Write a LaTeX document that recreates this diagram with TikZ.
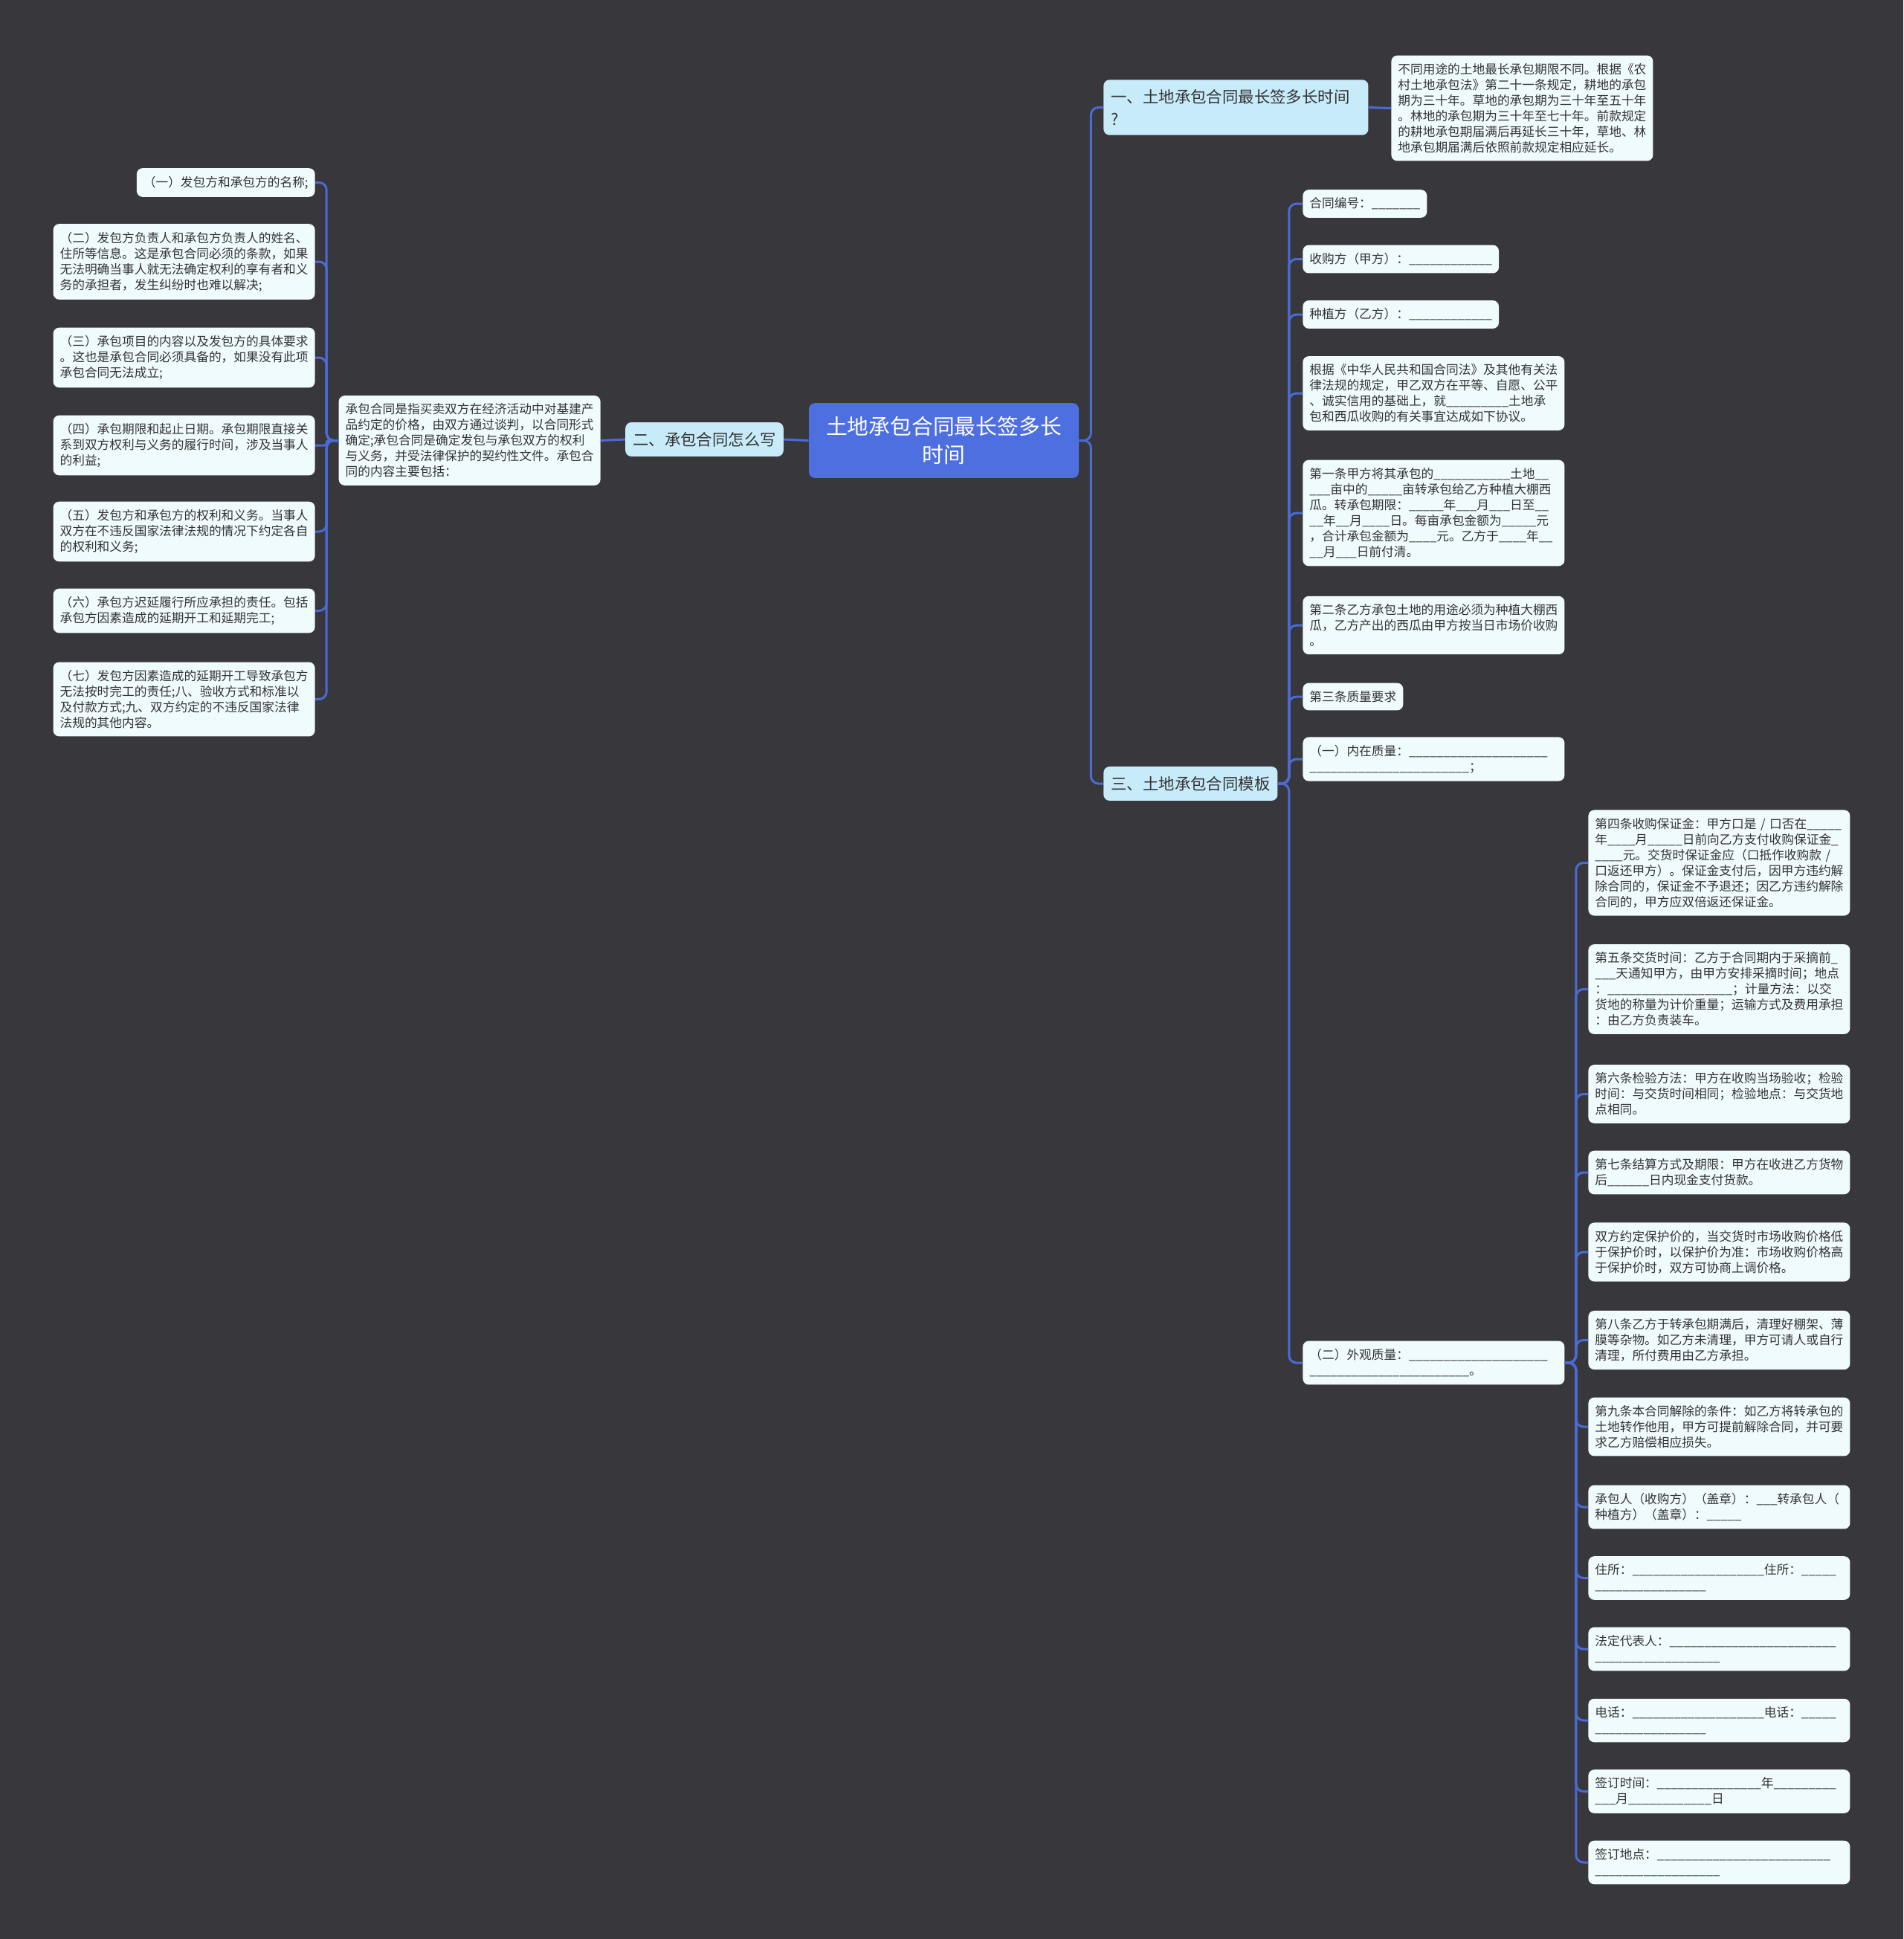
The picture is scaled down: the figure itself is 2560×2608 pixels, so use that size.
\documentclass[tikz,border=0pt]{standalone}
\usepackage{fontspec}
\usepackage{xcolor}
\newfontfamily\cjk{Noto Sans CJK SC}
\usetikzlibrary{
    positioning,
    calc
}
\definecolor{BgDark}{HTML}{38373B}
\definecolor{LinkBlue}{HTML}{4A6BD5}
\definecolor{RootBlue}{HTML}{4E6FE0}
\definecolor{TopicFill}{HTML}{C8EBFA}
\definecolor{LeafFill}{HTML}{F0FBFE}
\definecolor{InkGray}{HTML}{333333}

\newcommand{\blanks}[1]{\ifnum#1>0 \_\expandafter\blanks\expandafter{\number\numexpr#1-1\relax}\fi}

\tikzset{
    link/.style={draw=LinkBlue, line width=1.5pt, rounded corners=5pt},
    rootbox/.style={
        fill=RootBlue, text=white, rounded corners=4pt,
        font=\cjk\fontsize{14.4}{19}\selectfont,
        align=center, inner xsep=11.5pt, inner ysep=9pt,
        minimum width=181.5pt
    },
    topic/.style={
        fill=TopicFill, text=InkGray, rounded corners=4pt,
        font=\cjk\fontsize{10.7}{15}\selectfont,
        align=left, inner xsep=5pt, inner ysep=6.5pt
    },
    leaf/.style={
        fill=LeafFill, text=InkGray, rounded corners=4pt,
        font=\cjk\fontsize{8.35}{10.5}\selectfont,
        align=left, inner xsep=4.5pt, inner ysep=5.3pt
    },
    note/.style={leaf, text width=167pt}
}

\begin{document}
\begin{tikzpicture}[x=0.5pt,y=-0.5pt]

\fill[BgDark] (0,0) rectangle (2560,2608);
\useasboundingbox (0,0) rectangle (2560,2608);

\node[rootbox] (root) at (1269.5,592.5) {土地承包合同最长签多长\\时间};

\node[topic, text width=168pt, anchor=west] (q1) at (1484,144.5) {一、土地承包合同最长签多长时间\\?};
\node[topic] (q2) at (947.5,591) {二、承包合同怎么写};
\node[topic, anchor=west] (q3) at (1484,1054) {三、土地承包合同模板};

\node[note, anchor=west] (q1note) at (1871,145.5) {
    不同用途的土地最长承包期限不同。根据《农\\
    村土地承包法》第二十一条规定，耕地的承包\\
    期为三十年。草地的承包期为三十年至五十年\\
    。林地的承包期为三十年至七十年。前款规定\\
    的耕地承包期届满后再延长三十年，草地、林\\
    地承包期届满后依照前款规定相应延长。};

\node[note, anchor=east] (q2note) at (808,592.5) {
    承包合同是指买卖双方在经济活动中对基建产\\
    品约定的价格，由双方通过谈判，以合同形式\\
    确定;承包合同是确定发包与承包双方的权利\\
    与义务，并受法律保护的契约性文件。承包合\\
    同的内容主要包括：};

\node[leaf, anchor=east] (k1) at (424,245.5) {（一）发包方和承包方的名称;};
\node[note, anchor=east] (k2) at (424,352) {
    （二）发包方负责人和承包方负责人的姓名、\\
    住所等信息。这是承包合同必须的条款，如果\\
    无法明确当事人就无法确定权利的享有者和义\\
    务的承担者，发生纠纷时也难以解决;};
\node[note, anchor=east] (k3) at (424,481) {
    （三）承包项目的内容以及发包方的具体要求\\
    。这也是承包合同必须具备的，如果没有此项\\
    承包合同无法成立;};
\node[note, anchor=east] (k4) at (424,599) {
    （四）承包期限和起止日期。承包期限直接关\\
    系到双方权利与义务的履行时间，涉及当事人\\
    的利益;};
\node[note, anchor=east] (k5) at (424,715) {
    （五）发包方和承包方的权利和义务。当事人\\
    双方在不违反国家法律法规的情况下约定各自\\
    的权利和义务;};
\node[note, anchor=east] (k6) at (424,821.5) {
    （六）承包方迟延履行所应承担的责任。包括\\
    承包方因素造成的延期开工和延期完工;};
\node[note, anchor=east] (k7) at (424,940.5) {
    （七）发包方因素造成的延期开工导致承包方\\
    无法按时完工的责任;八、验收方式和标准以\\
    及付款方式;九、双方约定的不违反国家法律\\
    法规的其他内容。};

\node[leaf, anchor=west] (r1) at (1752,274) {合同编号：\blanks{7}};
\node[leaf, anchor=west] (r2) at (1752,348.5) {收购方（甲方）：\blanks{12}};
\node[leaf, anchor=west] (r3) at (1752,423) {种植方（乙方）：\blanks{12}};
\node[note, anchor=west] (r4) at (1752,529) {
    根据《中华人民共和国合同法》及其他有关法\\
    律法规的规定，甲乙双方在平等、自愿、公平\\
    、诚实信用的基础上，就\blanks{9}土地承\\
    包和西瓜收购的有关事宜达成如下协议。};
\node[note, anchor=west] (r5) at (1752,690) {
    第一条甲方将其承包的\blanks{11}土地\blanks{2}\\
    \blanks{3}亩中的\blanks{5}亩转承包给乙方种植大棚西\\
    瓜。转承包期限：\blanks{5}年\blanks{3}月\blanks{3}日至\blanks{2}\\
    \blanks{2}年\blanks{2}月\blanks{4}日。每亩承包金额为\blanks{5}元\\
    ，合计承包金额为\blanks{4}元。乙方于\blanks{4}年\blanks{2}\\
    \blanks{2}月\blanks{3}日前付清。};
\node[note, anchor=west] (r6) at (1752,841) {
    第二条乙方承包土地的用途必须为种植大棚西\\
    瓜，乙方产出的西瓜由甲方按当日市场价收购\\
    。};
\node[leaf, anchor=west] (r7) at (1752,937) {第三条质量要求};
\node[note, anchor=west] (r8) at (1752,1021) {
    （一）内在质量：\blanks{20}\\
    \blanks{23}；};
\node[note, anchor=west] (r9) at (1752,1833) {
    （二）外观质量：\blanks{20}\\
    \blanks{23}。};

\node[note, anchor=west] (f1) at (2136,1160.5) {
    第四条收购保证金：甲方口是 / 口否在\blanks{5}\\
    年\blanks{4}月\blanks{5}日前向乙方支付收购保证金\blanks{1}\\
    \blanks{4}元。交货时保证金应（口抵作收购款 /\\
    口返还甲方）。保证金支付后，因甲方违约解\\
    除合同的，保证金不予退还；因乙方违约解除\\
    合同的，甲方应双倍返还保证金。};
\node[note, anchor=west] (f2) at (2136,1330.5) {
    第五条交货时间：乙方于合同期内于采摘前\blanks{1}\\
    \blanks{3}天通知甲方，由甲方安排采摘时间；地点\\
    ：\blanks{18}；计量方法：以交\\
    货地的称量为计价重量；运输方式及费用承担\\
    ：由乙方负责装车。};
\node[note, anchor=west] (f3) at (2136,1471.5) {
    第六条检验方法：甲方在收购当场验收；检验\\
    时间：与交货时间相同；检验地点：与交货地\\
    点相同。};
\node[note, anchor=west] (f4) at (2136,1577) {
    第七条结算方式及期限：甲方在收进乙方货物\\
    后\blanks{6}日内现金支付货款。};
\node[note, anchor=west] (f5) at (2136,1684) {
    双方约定保护价的，当交货时市场收购价格低\\
    于保护价时，以保护价为准：市场收购价格高\\
    于保护价时，双方可协商上调价格。};
\node[note, anchor=west] (f6) at (2136,1802.5) {
    第八条乙方于转承包期满后，清理好棚架、薄\\
    膜等杂物。如乙方未清理，甲方可请人或自行\\
    清理，所付费用由乙方承担。};
\node[note, anchor=west] (f7) at (2136,1919) {
    第九条本合同解除的条件：如乙方将转承包的\\
    土地转作他用，甲方可提前解除合同，并可要\\
    求乙方赔偿相应损失。};
\node[note, anchor=west] (f8) at (2136,2027) {
    承包人（收购方）（盖章）：\blanks{3}转承包人（\\
    种植方）（盖章）：\blanks{5}};
\node[note, anchor=west] (f9) at (2136,2122.5) {
    住所：\blanks{19}住所：\blanks{5}\\
    \blanks{16}};
\node[note, anchor=west] (f10) at (2136,2218) {
    法定代表人：\blanks{24}\\
    \blanks{18}};
\node[note, anchor=west] (f11) at (2136,2314) {
    电话：\blanks{19}电话：\blanks{5}\\
    \blanks{16}};
\node[note, anchor=west] (f12) at (2136,2409.5) {
    签订时间：\blanks{15}年\blanks{9}\\
    \blanks{3}月\blanks{12}日};
\node[note, anchor=west] (f13) at (2136,2505) {
    签订地点：\blanks{25}\\
    \blanks{18}};

\draw[link] (root.east) -- ++(16,0) |- (q1.west);
\draw[link] (root.east) -- ++(16,0) |- (q3.west);
\draw[link] (root.west) -- (q2.east);
\draw[link] (q1.east) -- (q1note.west);
\draw[link] (q2.west) -- (q2note.east);

\foreach \k in {k1,k2,k3,k5,k6,k7}
    \draw[link] (q2note.west) -- ++(-16,0) |- (\k.east);
\draw[link, rounded corners=1.5pt] (q2note.west) -- ++(-16,0) |- (k4.east);

\foreach \i in {1,...,9}
    \draw[link] (q3.east) -- ++(15,0) |- (r\i.west);

\foreach \i in {1,...,13}
    \draw[link] (r9.east) -- ++(15,0) |- (f\i.west);

\end{tikzpicture}
\end{document}
